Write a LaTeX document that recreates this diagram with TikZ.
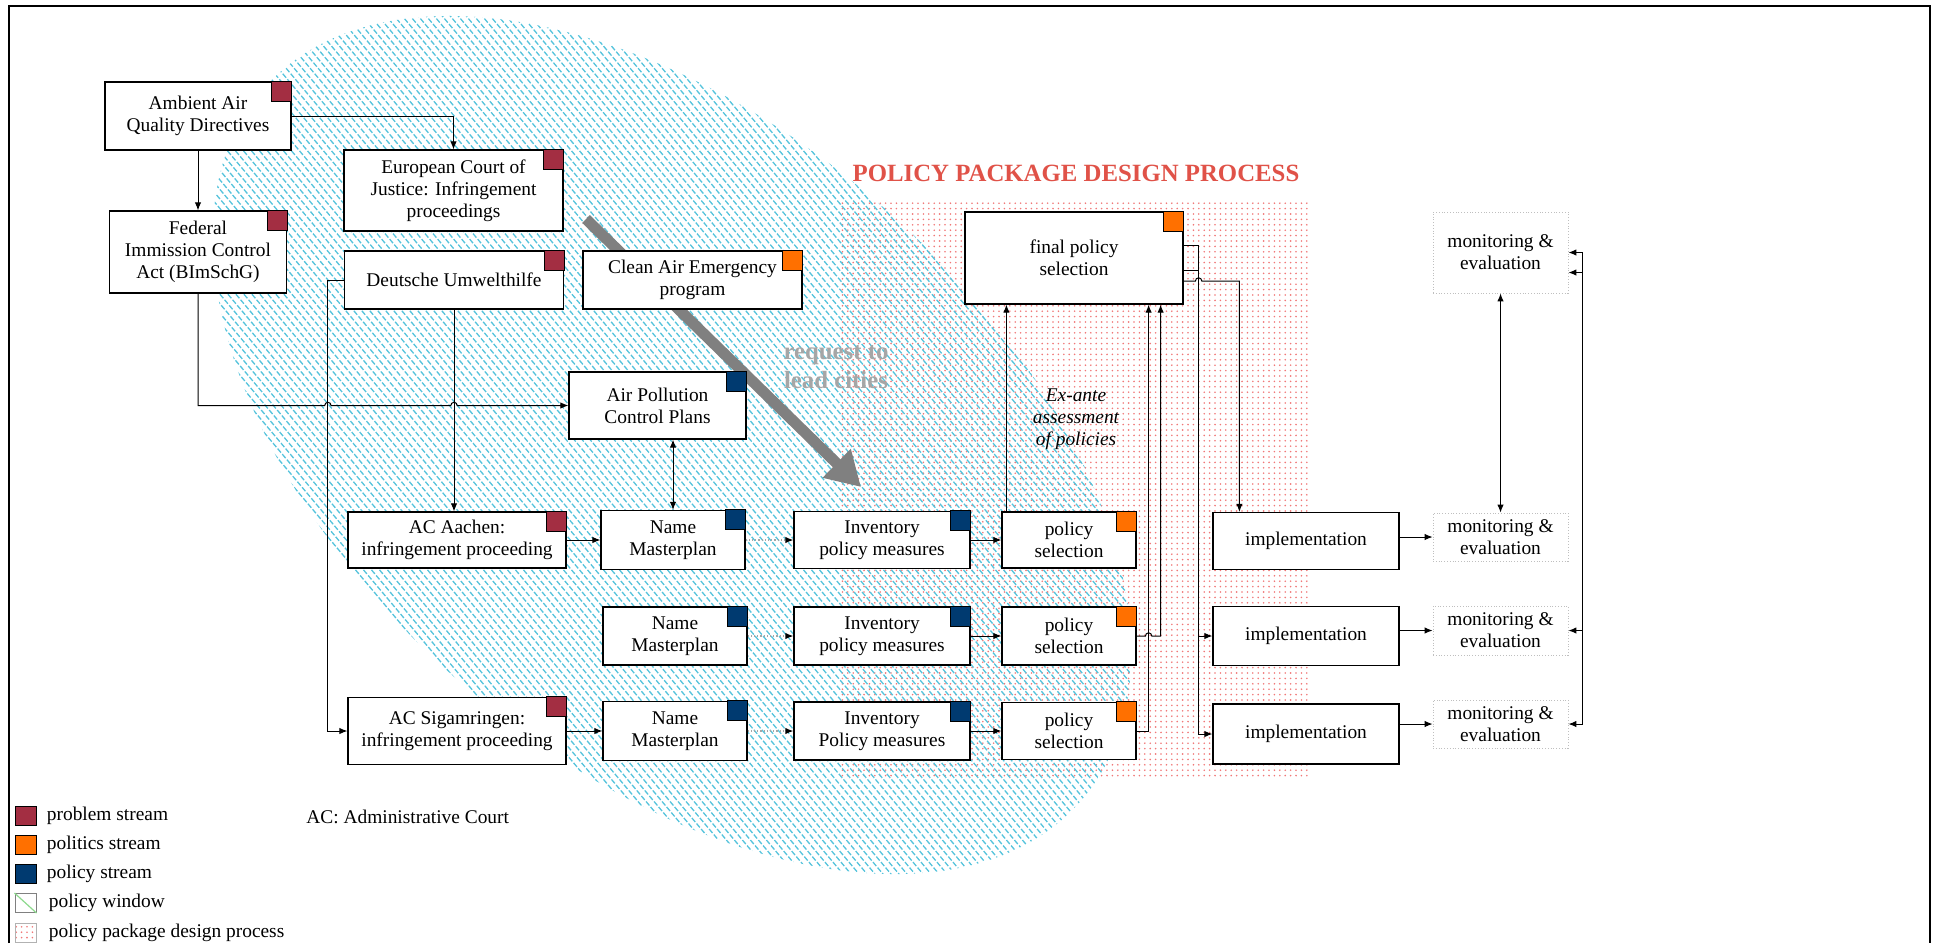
\documentclass[tikz,border=0pt]{standalone}
\usepackage{fontspec}
\setmainfont{Liberation Serif}
\usetikzlibrary{arrows.meta,calc,patterns.meta}
\definecolor{probc}{RGB}{163,46,66}
\definecolor{polc}{RGB}{255,112,0}
\definecolor{pold}{RGB}{0,58,112}
\definecolor{hatchc}{RGB}{85,195,220}
\definecolor{dotc}{RGB}{240,120,120}
\definecolor{ppdred}{RGB}{224,82,72}

\begin{document}
\begin{tikzpicture}[x=0.5pt, y=-0.5pt, >={Latex[length=4pt,width=3.2pt]},
    font=\fontsize{9.7}{11}\selectfont,
    box/.style={draw, fill=white, line width=0.6pt, align=center, inner sep=1pt},
    mebox/.style={draw=gray!50, densely dotted, align=center, inner sep=1pt, minimum width=67.5pt},
    link/.style={->, line width=0.5pt},
    dotlink/.style={densely dotted, gray!70, line width=0.6pt, -{Latex[length=4pt,width=3.2pt,color=black]}},
    hatch/.style={hatchc, line width=0.65pt, dash pattern=on 2.6pt off 1pt},
    legsq/.style={draw, line width=0.5pt, minimum width=10.5pt, minimum height=9.5pt, inner sep=0pt}]
    \useasboundingbox (0,0) rectangle (1936,943);

    \fill[pattern={Dots[distance=2.7pt,radius=0.45pt]}, pattern color=dotc] (839,201) rectangle (1309,776);
    \begin{scope}
        \clip[rotate around={-41:(672,445)}] (672,445) ellipse [x radius=542, y radius=318];
        \foreach \i in {-580,-572,...,1140}
            \draw[hatch] (\i,-20) -- ++(840,1000);
    \end{scope}

    \coordinate (reqa) at (586,219);
    \coordinate (reqb) at (861,487);
    \draw[line width=5.5pt, gray, -{Triangle[length=17pt,width=19pt]}] (reqa) -- (reqb);
    \node[font=\bfseries\fontsize{12.4}{14.5}\selectfont, text=gray!70, align=center] (req) at (836,367) {request to\\lead cities};
    \node[font=\bfseries\fontsize{12.4}{14}\selectfont, text=ppdred] (ppd) at (1076,173) {POLICY PACKAGE DESIGN PROCESS};
    \node[font=\itshape\fontsize{9.7}{11}\selectfont, align=center] (exante) at (1076,419) {Ex-ante\\assessment\\of policies};

    \node[box, minimum width=93pt, minimum height=34pt] (amb) at (198,116) {Ambient Air\\Quality Directives};
    \node[box, minimum width=88.5pt, minimum height=41pt] (fed) at (198,252) {Federal\\Immission Control\\Act (BImSchG)};
    \node[box, minimum width=109.5pt, minimum height=40.5pt] (ecj) at (453.5,190.5) {European Court of\\Justice: Infringement\\proceedings};
    \node[box, minimum width=109.5pt, minimum height=29pt] (duh) at (454,280) {Deutsche Umwelthilfe};
    \node[box, minimum width=109.5pt, minimum height=29pt] (caep) at (692.5,280) {Clean Air Emergency\\program};
    \node[box, minimum width=88.5pt, minimum height=33.5pt] (apcp) at (657.5,405.5) {Air Pollution\\Control Plans};

    \node[box, minimum width=109pt, minimum height=28pt] (aachen) at (457,540) {AC Aachen:\\infringement proceeding};
    \node[box, minimum width=72pt, minimum height=29.5pt] (nm1) at (673,540) {Name\\Masterplan};
    \node[box, minimum width=88pt, minimum height=28.5pt] (inv1) at (882,540) {Inventory\\policy measures};
    \node[box, minimum width=67pt, minimum height=28pt] (ps1) at (1069,540) {policy\\selection};

    \node[box, minimum width=72pt, minimum height=29pt] (nm2) at (675,636) {Name\\Masterplan};
    \node[box, minimum width=88pt, minimum height=29pt] (inv2) at (882,636) {Inventory\\policy measures};
    \node[box, minimum width=67pt, minimum height=29pt] (ps2) at (1069,636) {policy\\selection};

    \node[box, minimum width=109pt, minimum height=33.5pt] (sig) at (457,731) {AC Sigamringen:\\infringement proceeding};
    \node[box, minimum width=72pt, minimum height=29.5pt] (nm3) at (675,731) {Name\\Masterplan};
    \node[box, minimum width=88pt, minimum height=29pt] (inv3) at (882,731) {Inventory\\Policy measures};
    \node[box, minimum width=67pt, minimum height=28.5pt] (ps3) at (1069,731) {policy\\selection};

    \node[box, minimum width=109pt, minimum height=46pt] (fps) at (1074,258) {final policy\\selection};
    \node[box, minimum width=93pt, minimum height=28.5pt] (impl1) at (1306,541) {implementation};
    \node[box, minimum width=93pt, minimum height=29.5pt] (impl2) at (1306,636) {implementation};
    \node[box, minimum width=93pt, minimum height=30pt] (impl3) at (1306,734) {implementation};

    \node[mebox, minimum height=40.5pt] (me0) at (1500.5,252.5) {monitoring \&\\evaluation};
    \node[mebox, minimum height=24pt] (me1) at (1500.5,537) {monitoring \&\\evaluation};
    \node[mebox, minimum height=24.5pt] (me2) at (1500.5,630.5) {monitoring \&\\evaluation};
    \node[mebox, minimum height=24pt] (me3) at (1500.5,724) {monitoring \&\\evaluation};

    \foreach \n/\c in {amb/probc, fed/probc, ecj/probc, duh/probc, aachen/probc, sig/probc,
                       caep/polc, fps/polc, ps1/polc, ps2/polc, ps3/polc,
                       apcp/pold, nm1/pold, nm2/pold, nm3/pold, inv1/pold, inv2/pold, inv3/pold}
        \draw[fill=\c, line width=0.5pt] (\n.north east) rectangle ++(-10pt,-10pt);

    \coordinate (dl) at ($(duh.west)+(-8pt,0)$);
    \coordinate (p1) at ($(ps1.north west)+(2.5pt,0)$);
    \coordinate (p3) at ($(ps3.east)+(6pt,0)$);
    \coordinate (f1) at ($(fps.east)+(7.5pt,6.5pt)$);
    \coordinate (fo2) at ($(fps.east)+(0,-6pt)$);
    \coordinate (fo3) at ($(fps.east)+(0,-11.5pt)$);
    \coordinate (i1) at ($(impl1.north west)+(13.5pt,0)$);
    \coordinate (mr) at ($(me0.east)+(7pt,0)$);

    \draw[link] (amb) -- (fed);
    \draw[link] (amb.east) -| (ecj);
    \draw[link] (fed.south) |- ($(dl |- apcp.west)+(-1.6pt,0)$) arc[start angle=180, end angle=0, radius=1.6pt]
        -- ($(duh.south |- apcp.west)+(-1.6pt,0)$) arc[start angle=180, end angle=0, radius=1.6pt] -- (apcp.west);
    \draw[link] (duh.south) -- (duh.south |- aachen.north);
    \draw[link] (duh.west) -- (dl) |- (sig.west);
    \draw[<->, line width=0.5pt] (apcp.south -| nm1.north) -- (nm1.north);
    \draw[link] (aachen) -- (nm1);
    \draw[link] (sig) -- (nm3);
    \foreach \r in {1,2,3} {
        \draw[dotlink] (nm\r) -- (inv\r);
        \draw[link] (inv\r) -- (ps\r);
        \draw[link] (impl\r.east |- me\r.west) -- (me\r.west);
    }
    \draw[link] (p1) -- (p1 |- fps.south);
    \draw[link] (ps3.east) -- (p3) -- (p3 |- fps.south);
    \draw[link] (ps2.east) -- ($(p3 |- ps2.east)+(-1.6pt,0)$) arc[start angle=180, end angle=0, radius=1.6pt]
        -- ($(p3 |- ps2.east)+(6pt,0)$) coordinate (p2) -- (p2 |- fps.south);
    \draw[link] ($(fps.east)+(0,6.5pt)$) -- (f1) |- (impl3.west);
    \draw[link] (fo2) -- (fo2 -| f1) |- (impl2.west);
    \draw[link] (fo3) -- ($(fo3 -| f1)+(-1.6pt,0)$) arc[start angle=180, end angle=0, radius=1.6pt] -| (i1);
    \draw[<->, line width=0.5pt] (me0) -- (me1);
    \draw[<->, line width=0.5pt] (me0.east) -- (mr) |- (me3.east);
    \draw[<->, line width=0.5pt] ($(me0.east)+(0,-10pt)$) -- ++(7pt,0) |- (me2.east);

    \foreach \c/\t [count=\i] in {probc/problem stream, polc/politics stream, pold/policy stream} {
        \node[legsq, fill=\c] (lg\i) at (25.5,787+29*\i) {};
        \node[anchor=west, inner sep=0pt] (lgt\i) at ($(lg\i.east)+(5pt,0)$) {\t};
    }
    \node[legsq, draw=gray] (lg4) at (25.5,903) {};
    \draw[green!50!gray!60, line width=0.6pt] (lg4.north west) -- (lg4.south east);
    \node[anchor=west, inner sep=0pt] (lgt4) at ($(lg4.east)+(6pt,0)$) {policy window};
    \node[legsq, draw=gray!60, pattern={Dots[distance=2.7pt,radius=0.45pt]}, pattern color=dotc] (lg5) at (25.5,932.5) {};
    \node[anchor=west, inner sep=0pt] (lgt5) at ($(lg5.east)+(6pt,0)$) {policy package design process};
    \node[anchor=west, inner sep=0pt] (acnote) at (306,817) {AC: Administrative Court};

    \draw[line width=1.25pt] (9,943) -- (9,6) -- (1930,6) -- (1930,943);
\end{tikzpicture}
\end{document}
